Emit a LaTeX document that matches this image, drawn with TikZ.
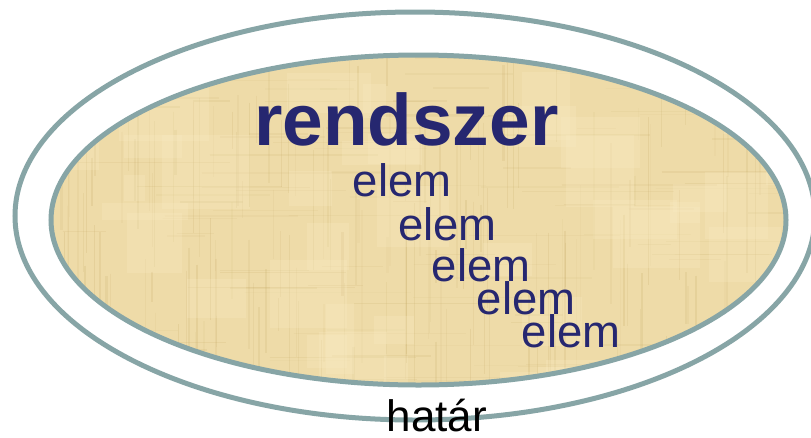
\documentclass[tikz,border=0pt]{standalone}
\usepackage{fontspec}
\setmainfont{Liberation Sans}
\definecolor{rim}{RGB}{135,165,166}
\definecolor{ink}{RGB}{38,39,112}
\definecolor{papyrus}{RGB}{238,219,168}
\definecolor{papyrusdark}{RGB}{196,168,100}
\definecolor{papyruslight}{RGB}{250,236,196}
\tikzset{
  rimline/.style={draw=rim, line width=5pt},
  titletext/.style={inner sep=0pt, anchor=base west, text=ink, font=\bfseries\fontsize{73}{80}\selectfont},
  elemtext/.style={inner sep=0pt, anchor=base west, text=ink, font=\fontsize{45.5}{50}\selectfont},
  bordertext/.style={inner sep=0pt, anchor=base west, text=black, font=\fontsize{44}{50}\selectfont}
}
\begin{document}
\begin{tikzpicture}[x=1pt, y=-1pt]
  \useasboundingbox (0,0) rectangle (811,437);
  \fill[white] (0,0) rectangle (811,437);

  % outer boundary
  \draw[rimline] (415,216) ellipse [x radius=400, y radius=204];

  % the system: papyrus-textured ellipse
  \begin{scope}
    \clip (418.5,220) ellipse [x radius=367.5, y radius=165];
    \fill[papyrus] (40,50) rectangle (800,390);
    \pgfmathsetseed{11}
    % vertical fibres
    \foreach \i in {1,...,170} {
      \pgfmathsetmacro\xx{50+rnd*740}
      \pgfmathsetmacro\ya{50+rnd*300}
      \pgfmathsetmacro\yb{\ya+30+rnd*160}
      \pgfmathsetmacro\op{0.06+0.16*rnd}
      \pgfmathsetmacro\lw{0.6+1.8*rnd}
      \draw[papyrusdark, opacity=\op, line width=\lw pt] (\xx,\ya) -- (\xx,\yb);
    }
    % horizontal fibres
    \foreach \i in {1,...,110} {
      \pgfmathsetmacro\yy{55+rnd*330}
      \pgfmathsetmacro\xa{50+rnd*700}
      \pgfmathsetmacro\xb{\xa+30+rnd*150}
      \pgfmathsetmacro\op{0.05+0.12*rnd}
      \pgfmathsetmacro\lw{0.6+1.5*rnd}
      \draw[papyrusdark, opacity=\op, line width=\lw pt] (\xa,\yy) -- (\xb,\yy);
    }
    % pale patches
    \foreach \i in {1,...,40} {
      \pgfmathsetmacro\px{50+rnd*720}
      \pgfmathsetmacro\py{55+rnd*320}
      \pgfmathsetmacro\pw{20+rnd*70}
      \pgfmathsetmacro\ph{15+rnd*60}
      \fill[papyruslight, opacity=0.25] (\px,\py) rectangle ++(\pw,\ph);
    }
  \end{scope}
  \draw[rimline] (418.5,220) ellipse [x radius=367.5, y radius=165];

  % labels
  \node[titletext] (title) at (254,145) {rendszer};
  \node[elemtext] (e1) at (352.5,196.5) {elem};
  \node[elemtext] (e2) at (398,240) {elem};
  \node[elemtext] (e3) at (431.5,281.5) {elem};
  \node[elemtext] (e4) at (476.5,314.5) {elem};
  \node[elemtext] (e5) at (521.5,347) {elem};
  \node[bordertext] (border) at (386.5,431.5) {határ};
\end{tikzpicture}
\end{document}
